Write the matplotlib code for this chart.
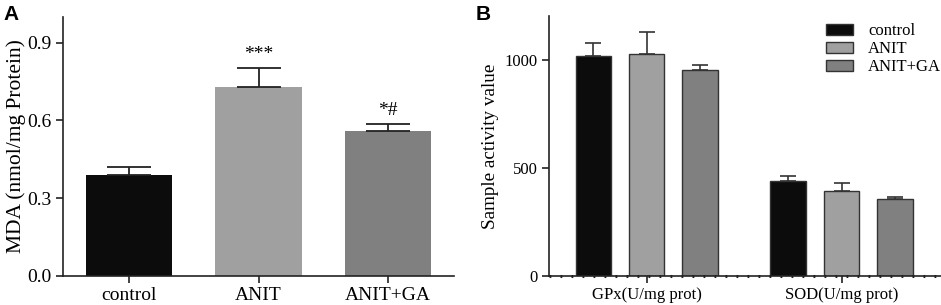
import matplotlib
matplotlib.use('Agg')
import matplotlib.pyplot as plt
import numpy as np

# panel A data
groups_a = ['control', 'ANIT', 'ANIT+GA']
mda_mean = [0.391, 0.729, 0.560]
mda_err = [0.029, 0.072, 0.025]
mda_marks = ['', '***', '*#']
colors_a = ['#0c0c0c', '#a0a0a0', '#808080']

# panel B data
cats_b = ['GPx(U/mg prot)', 'SOD(U/mg prot)']
series_b = ['control', 'ANIT', 'ANIT+GA']
act_mean = {'control': [1019, 439], 'ANIT': [1025, 394], 'ANIT+GA': [951, 354]}
act_err = {'control': [60, 23], 'ANIT': [101, 34], 'ANIT+GA': [22, 12]}
colors_b = ['#0c0c0c', '#a0a0a0', '#808080']

plt.rcParams['font.family'] = ['Liberation Serif', 'DejaVu Serif']

fig = plt.figure(figsize=(9.41, 3.05), dpi=100)

# ---- A
ax1 = fig.add_axes([0.0670, 0.0961, 0.4155, 0.8485])
x = np.arange(len(groups_a))
ax1.bar(x, mda_mean, width=0.67, color=colors_a, zorder=2)
ax1.errorbar(x, mda_mean, yerr=[np.zeros(3), mda_err], fmt='none', ecolor='#222222',
             elinewidth=1.3, capsize=15.5, capthick=1.3, zorder=3)
for i, m in enumerate(mda_marks):
    if m:
        ax1.text(x[i], mda_mean[i] + mda_err[i] + 0.022, m, ha='center', va='bottom', fontsize=14)
ax1.set_xlim(-0.51, 2.51)
ax1.set_ylim(0, 1.0)
ax1.set_yticks([0.0, 0.3, 0.6, 0.9])
ax1.set_yticklabels(['0.0', '0.3', '0.6', '0.9'])
ax1.set_xticks(x)
ax1.set_xticklabels(groups_a)
ax1.set_ylabel('MDA (nmol/mg Protein)', fontsize=15.5, labelpad=1)
ax1.tick_params(labelsize=14, width=1.2, length=5, color='#222222')
for s in ['top', 'right']:
    ax1.spines[s].set_visible(False)
for s in ['left', 'bottom']:
    ax1.spines[s].set_linewidth(1.2)
    ax1.spines[s].set_color('#222222')
fig.text(0.004, 0.985, 'A', fontsize=15, fontweight='bold', family='Liberation Sans', va='top')

# ---- B
ax2 = fig.add_axes([0.5837, 0.0961, 0.4163, 0.8500])
xb = np.arange(len(cats_b))
w = 0.182
step = 0.274
for j, s in enumerate(series_b):
    pos = xb + (j - 1) * step
    ax2.bar(pos, act_mean[s], width=w, color=colors_b[j], edgecolor='#333333',
            linewidth=1.0, label=s, zorder=2)
    ax2.errorbar(pos, act_mean[s], yerr=[np.zeros(2), act_err[s]], fmt='none',
                 ecolor='#333333', elinewidth=1.2, capsize=5.5, capthick=1.2, zorder=3)
ax2.axhline(0, color='#222222', lw=2.2, ls=(0, (0.6, 3.0)), zorder=4, clip_on=False)
ax2.set_xlim(-0.5, 1.51)
ax2.set_ylim(0, 1200)
ax2.set_yticks([0, 500, 1000])
ax2.set_xticks(xb)
ax2.set_xticklabels(cats_b)
ax2.set_ylabel('Sample activity value', fontsize=13.8, labelpad=4)
ax2.tick_params(labelsize=12, width=1.2, length=5, color='#222222')
for s in ['top', 'right']:
    ax2.spines[s].set_visible(False)
for s in ['left', 'bottom']:
    ax2.spines[s].set_linewidth(1.2)
    ax2.spines[s].set_color('#222222')
leg = ax2.legend(loc='upper left', bbox_to_anchor=(0.69, 1.0), frameon=False, fontsize=12,
                 handlelength=1.6, handleheight=0.6, handletextpad=0.9, labelspacing=0.12,
                 borderaxespad=0)
fig.text(0.505, 0.985, 'B', fontsize=15, fontweight='bold', family='Liberation Sans', va='top')

fig.savefig('out.png', dpi=100)
